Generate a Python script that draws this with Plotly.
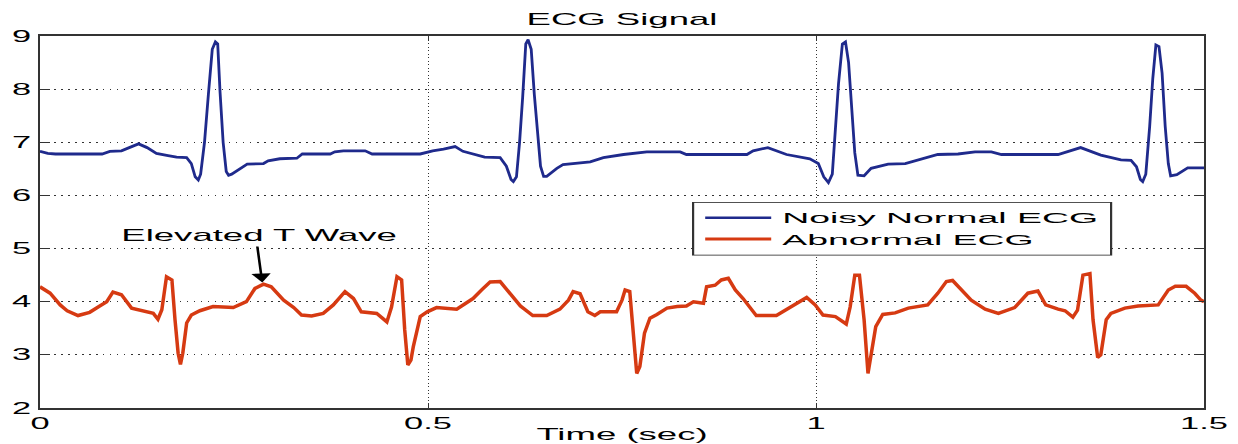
import plotly.graph_objects as go

# ---- data ----
normal_t = [0.000, 0.010, 0.020, 0.080, 0.090, 0.105, 0.115, 0.127, 0.138, 0.150,
            0.165, 0.176, 0.189, 0.195, 0.200, 0.204, 0.207, 0.212, 0.217, 0.222,
            0.226, 0.229, 0.232, 0.236, 0.240, 0.243, 0.247, 0.258, 0.267, 0.288,
            0.294, 0.309, 0.331, 0.338, 0.374, 0.380, 0.391, 0.419, 0.428, 0.490,
            0.506, 0.520, 0.535, 0.545, 0.573, 0.593, 0.601, 0.607, 0.610, 0.614,
            0.618, 0.622, 0.626, 0.629, 0.633, 0.637, 0.641, 0.645, 0.649, 0.653,
            0.666, 0.674, 0.709, 0.726, 0.752, 0.782, 0.825, 0.833, 0.911, 0.919,
            0.938, 0.962, 0.992, 1.003, 1.010, 1.016, 1.021, 1.025, 1.029, 1.034,
            1.038, 1.042, 1.046, 1.050, 1.054, 1.062, 1.071, 1.093, 1.115, 1.131,
            1.157, 1.183, 1.205, 1.226, 1.239, 1.312, 1.329, 1.341, 1.367, 1.393,
            1.406, 1.413, 1.418, 1.421, 1.425, 1.430, 1.434, 1.438, 1.442, 1.446,
            1.450, 1.454, 1.457, 1.465, 1.479, 1.500]
normal_v = [6.83, 6.79, 6.78, 6.78, 6.83, 6.84, 6.90, 6.97, 6.90, 6.79,
            6.75, 6.72, 6.71, 6.60, 6.35, 6.29, 6.40, 7.00, 7.90, 8.75,
            8.89, 8.85, 7.95, 7.00, 6.45, 6.38, 6.40, 6.51, 6.59, 6.60,
            6.65, 6.69, 6.70, 6.78, 6.78, 6.82, 6.84, 6.84, 6.78, 6.78,
            6.84, 6.87, 6.92, 6.83, 6.72, 6.71, 6.55, 6.30, 6.26, 6.35,
            7.00, 7.85, 8.85, 8.93, 8.75, 7.90, 7.20, 6.55, 6.36, 6.36,
            6.51, 6.58, 6.63, 6.71, 6.77, 6.82, 6.82, 6.77, 6.77, 6.84,
            6.90, 6.77, 6.69, 6.60, 6.35, 6.24, 6.40, 7.20, 8.10, 8.85,
            8.89, 8.50, 7.60, 6.80, 6.38, 6.37, 6.51, 6.59, 6.60, 6.67,
            6.77, 6.78, 6.82, 6.82, 6.77, 6.77, 6.84, 6.90, 6.76, 6.67,
            6.66, 6.54, 6.30, 6.26, 6.40, 7.30, 8.20, 8.83, 8.80, 8.30,
            7.30, 6.60, 6.37, 6.39, 6.52, 6.52]

abnormal_t = [0.000, 0.013, 0.026, 0.035, 0.049, 0.064, 0.077, 0.086, 0.094, 0.105,
              0.118, 0.133, 0.146, 0.152, 0.157, 0.163, 0.170, 0.174, 0.178, 0.181,
              0.184, 0.189, 0.195, 0.206, 0.223, 0.249, 0.266, 0.277, 0.288, 0.298,
              0.314, 0.327, 0.337, 0.350, 0.365, 0.378, 0.393, 0.404, 0.414, 0.434,
              0.447, 0.453, 0.460, 0.466, 0.470, 0.474, 0.478, 0.481, 0.490, 0.499,
              0.511, 0.537, 0.558, 0.569, 0.580, 0.593, 0.606, 0.619, 0.635, 0.653,
              0.670, 0.681, 0.687, 0.696, 0.706, 0.715, 0.722, 0.743, 0.750, 0.754,
              0.760, 0.764, 0.769, 0.773, 0.779, 0.786, 0.795, 0.808, 0.821, 0.833,
              0.842, 0.855, 0.859, 0.870, 0.878, 0.887, 0.896, 0.906, 0.923, 0.949,
              0.966, 0.988, 0.999, 1.009, 1.025, 1.039, 1.044, 1.050, 1.056, 1.062,
              1.067, 1.071, 1.077, 1.086, 1.102, 1.119, 1.144, 1.157, 1.168, 1.176,
              1.187, 1.200, 1.218, 1.235, 1.256, 1.273, 1.286, 1.296, 1.312, 1.321,
              1.331, 1.337, 1.344, 1.353, 1.357, 1.363, 1.367, 1.374, 1.380, 1.398,
              1.415, 1.441, 1.454, 1.463, 1.477, 1.488, 1.496, 1.500]
abnormal_v = [4.28, 4.16, 3.94, 3.83, 3.74, 3.80, 3.92, 4.00, 4.18, 4.13,
              3.88, 3.83, 3.78, 3.67, 3.85, 4.47, 4.41, 3.66, 3.03, 2.82,
              3.03, 3.60, 3.75, 3.83, 3.91, 3.89, 4.00, 4.25, 4.33, 4.28,
              4.03, 3.89, 3.75, 3.73, 3.78, 3.94, 4.19, 4.06, 3.81, 3.78,
              3.62, 3.90, 4.47, 4.41, 3.47, 2.81, 2.90, 3.15, 3.72, 3.81,
              3.89, 3.86, 4.06, 4.22, 4.37, 4.38, 4.16, 3.92, 3.74, 3.74,
              3.86, 4.03, 4.19, 4.15, 3.81, 3.74, 3.81, 3.81, 4.03, 4.22,
              4.19, 3.47, 2.65, 2.78, 3.41, 3.69, 3.76, 3.88, 3.91, 3.92,
              4.00, 3.97, 4.28, 4.31, 4.41, 4.44, 4.22, 4.06, 3.74, 3.74,
              3.89, 4.08, 3.94, 3.75, 3.72, 3.58, 3.90, 4.50, 4.50, 3.66,
              2.65, 3.03, 3.53, 3.76, 3.79, 3.88, 3.94, 4.16, 4.38, 4.40,
              4.22, 4.03, 3.86, 3.78, 3.89, 4.16, 4.20, 3.94, 3.86, 3.83,
              3.71, 3.84, 4.50, 4.53, 3.66, 2.95, 3.00, 3.66, 3.78, 3.88,
              3.92, 3.94, 4.22, 4.29, 4.29, 4.16, 4.03, 4.00]

x_ticks = [0, 0.5, 1, 1.5]
x_tick_labels = ["0", "0.5", "1", "1.5"]
y_ticks = [2, 3, 4, 5, 6, 7, 8, 9]
y_tick_labels = ["2", "3", "4", "5", "6", "7", "8", "9"]

annot_text = "Elevated T Wave"
annot_t = 0.286
annot_v = 4.36

FONT = "Liberation Sans, Arial, sans-serif"

fig = go.Figure()
fig.add_trace(go.Scatter(x=normal_t, y=normal_v, mode="lines", name="Noisy Normal ECG",
                         line=dict(color="#1f2a8c", width=2.8)))
fig.add_trace(go.Scatter(x=abnormal_t, y=abnormal_v, mode="lines", name="Abnormal ECG",
                         line=dict(color="#d63a12", width=3.5)))

axis_common = dict(showline=True, linecolor="#333333", linewidth=1.5, mirror="ticks",
                   ticks="inside", tickcolor="#333333", showgrid=True,
                   gridcolor="#333333", gridwidth=1, zeroline=False,
                   tickfont=dict(family=FONT, size=16, color="black"))

fig.update_layout(
    width=1238, height=444,
    margin=dict(l=40, r=34, t=36, b=36),
    paper_bgcolor="white", plot_bgcolor="white",
    font=dict(family=FONT, size=17, color="black"),
    title=dict(text="ECG Signal", x=0.5, xref="paper", xanchor="center",
               y=1 - 19 / 444, yref="container", yanchor="middle",
               font=dict(family=FONT, size=17, color="black")),
    xaxis=dict(range=[0, 1.5], tickvals=x_ticks, ticktext=x_tick_labels, ticklen=5,
               griddash="1px,2.5px",
               title=dict(text="Time (sec)", standoff=9,
                          font=dict(family=FONT, size=17, color="black")),
               automargin=False, **axis_common),
    yaxis=dict(range=[2, 9], tickvals=y_ticks, ticktext=y_tick_labels, ticklen=10,
               griddash="1.5px,5.5px",
               ticklabelstandoff=4, automargin=False, **axis_common),
    legend=dict(x=(692 - 40) / 1164, y=1 - (202 - 36) / 372, xanchor="left", yanchor="top",
                bgcolor="white", bordercolor="#333333", borderwidth=1,
                font=dict(family=FONT, size=17, color="black")),
    showlegend=True,
)

fig.add_annotation(x=annot_t, y=annot_v, text=annot_text, showarrow=True,
                   arrowhead=2, arrowsize=1.5, arrowwidth=1.2, arrowcolor="black",
                   ax=-3, ay=-47, font=dict(family=FONT, size=17, color="black"))

# The reference picture is stretched horizontally (~2.15x); mimic that on texts,
# legend and arrow.  Also drop the default page margin of the body.
post_js = """
document.body.style.margin = '0';
var gd = document.getElementById('{plot_id}');
(function(){
  var S = 2.15;
  gd.querySelectorAll('svg text').forEach(function(t){
    if (t.closest('g.legend')) return;
    var x = parseFloat(t.getAttribute('x')) || 0;
    var tr = t.getAttribute('transform') || '';
    t.setAttribute('transform', tr + ' translate(' + x + ',0) scale(' + S + ',1) translate(' + (-x) + ',0)');
  });
  var lg = gd.querySelector('g.legend');
  if (lg) { lg.setAttribute('transform', (lg.getAttribute('transform') || '') + ' scale(2.2,0.85)'); }
  gd.querySelectorAll('g.annotation-arrow-g').forEach(function(g){
    var b = g.getBBox();
    var cx = b.x + b.width / 2;
    var tr = g.getAttribute('transform') || '';
    g.setAttribute('transform', tr + ' translate(' + cx + ',0) scale(' + S + ',1) translate(' + (-cx) + ',0)');
  });
})();
"""

fig.write_html("out.html", post_script=post_js, config={"displayModeBar": False})
